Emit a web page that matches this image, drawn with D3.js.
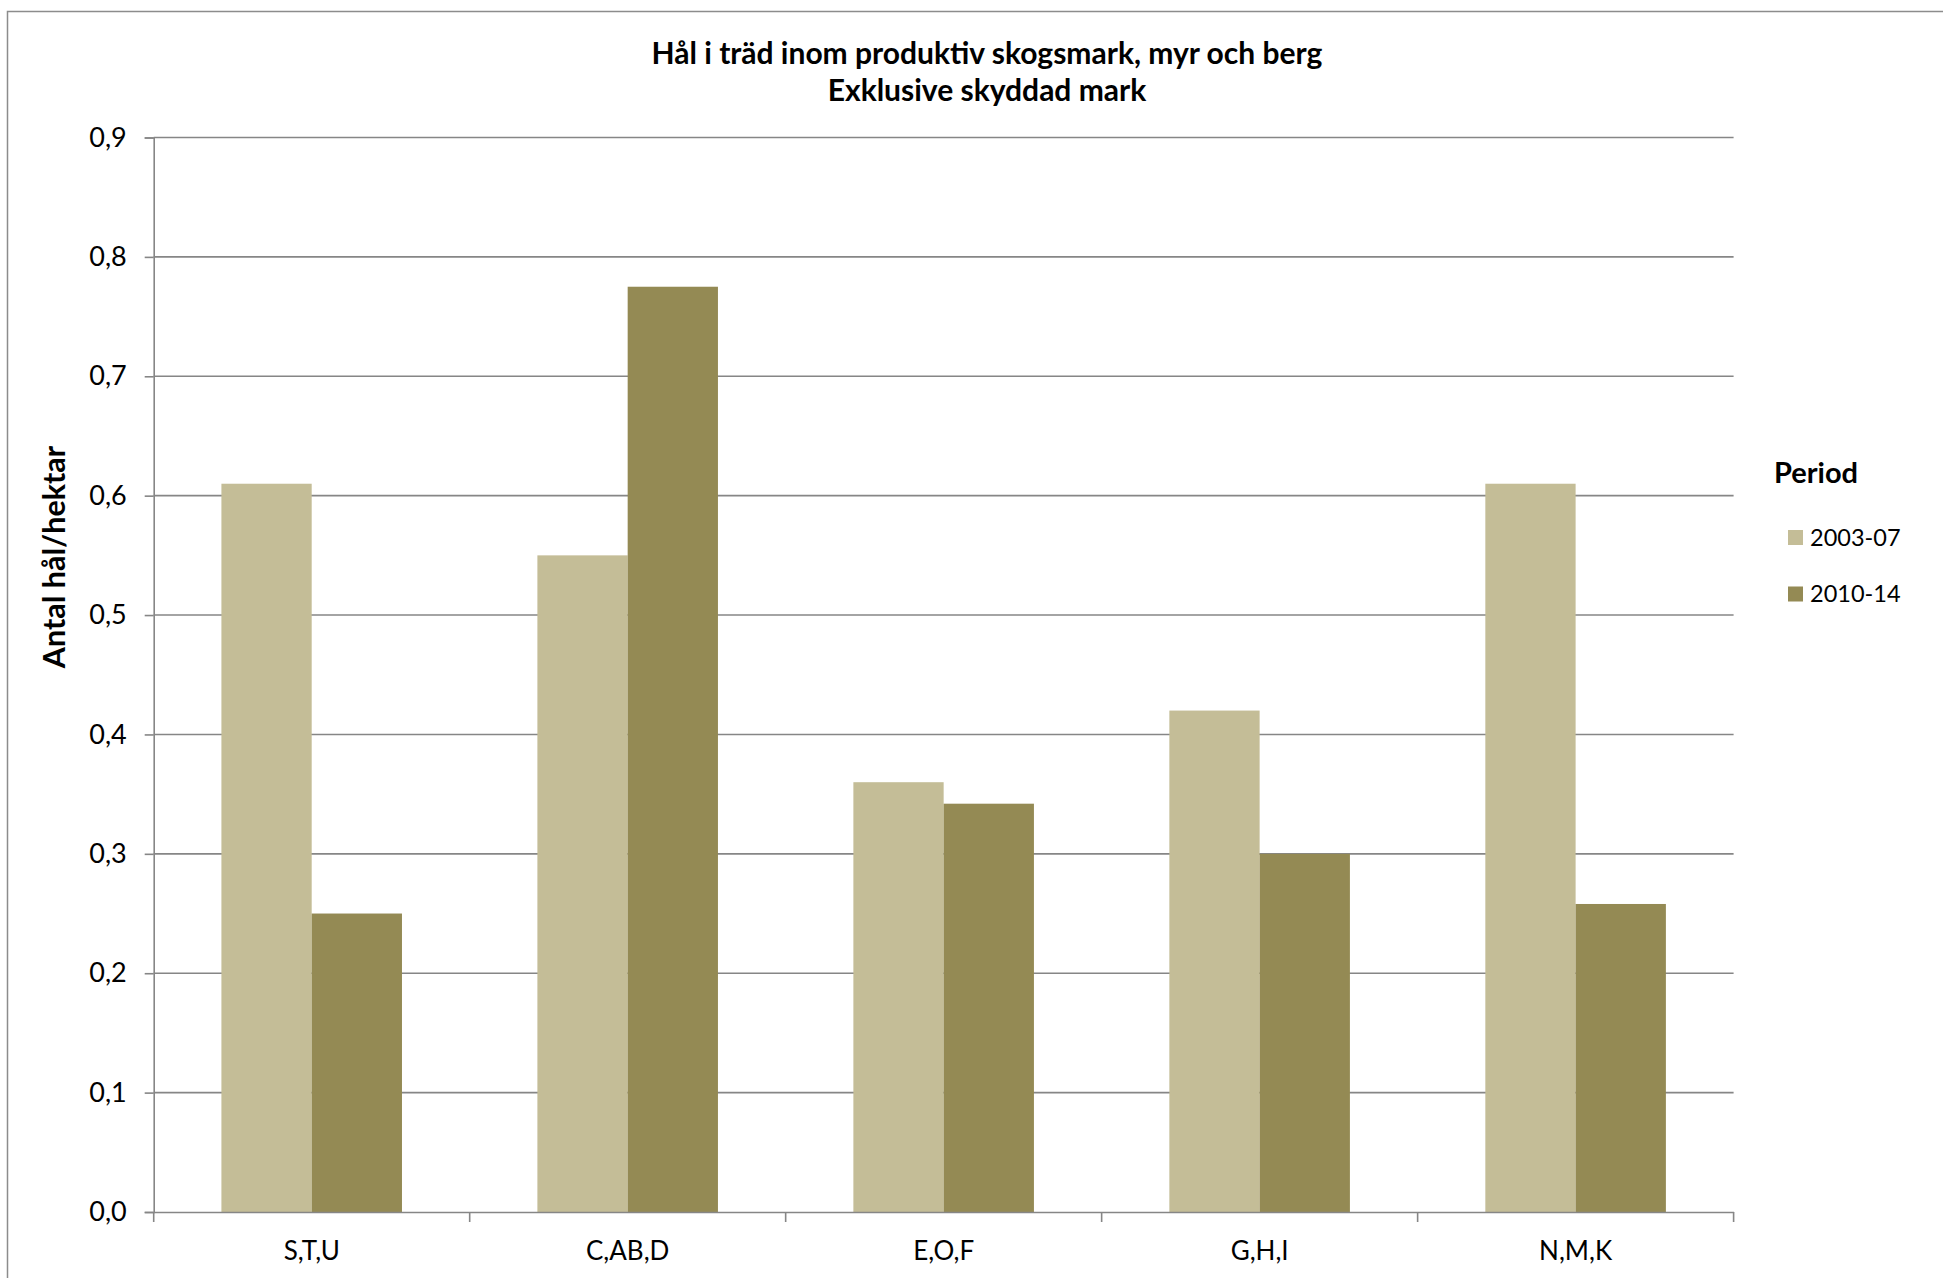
<!DOCTYPE html>
<html>
<head>
<meta charset="utf-8">
<script src="https://cdn.jsdelivr.net/npm/d3@7"></script>
<style>
  html, body { margin: 0; padding: 0; background: #ffffff; }
  svg { display: block; font-family: Lato, "Open Sans", sans-serif; }
</style>
</head>
<body>
<svg id="chart" width="1943" height="1278"></svg>
<script>
const categories = ["S,T,U", "C,AB,D", "E,O,F", "G,H,I", "N,M,K"];
const seriesNames = ["2003-07", "2010-14"];
const values2003 = [0.61, 0.55, 0.36, 0.42, 0.61];
const values2010 = [0.25, 0.775, 0.342, 0.30, 0.258];
const yTicks = [0, 0.1, 0.2, 0.3, 0.4, 0.5, 0.6, 0.7, 0.8, 0.9];
const titleLines = ["Hål i träd inom produktiv skogsmark, myr och berg", "Exklusive skyddad mark"];
const yTitle = "Antal hål/hektar";
const legendTitle = "Period";
const colors = ["#C4BD97", "#948A54"];

const svg = d3.select("#chart");
const W = 1943, H = 1278;
const plot = { left: 153.7, right: 1733.6, top: 137.5, bottom: 1212 };
const gridColor = "#868686";

// outer frame
svg.append("rect")
  .attr("x", 7.5).attr("y", 11.5)
  .attr("width", W + 20).attr("height", H + 20)
  .attr("fill", "#fff").attr("stroke", "#8c8c8c").attr("stroke-width", 1.5);

const x0 = d3.scaleBand().domain(categories).range([plot.left, plot.right]).paddingInner(0).paddingOuter(0);
const x1 = d3.scaleBand().domain(seriesNames).range([0, x0.bandwidth()]).paddingInner(0).paddingOuter(0.75);
const y = d3.scaleLinear().domain([0, 0.9]).range([plot.bottom, plot.top]);
const color = d3.scaleOrdinal().domain(seriesNames).range(colors);

const fmt = v => d3.format(".1f")(v).replace(".", ",");

// gridlines
svg.append("g")
  .selectAll("line").data(yTicks.filter(t => t > 0)).join("line")
  .attr("x1", plot.left).attr("x2", plot.right)
  .attr("y1", d => y(d)).attr("y2", d => y(d))
  .attr("stroke", gridColor).attr("stroke-width", 1.6);

// bars
const rows = categories.map((c, i) => ({ cat: c, vals: [values2003[i], values2010[i]] }));
const groups = svg.append("g").selectAll("g").data(rows).join("g")
  .attr("transform", d => `translate(${x0(d.cat)},0)`);
groups.selectAll("rect")
  .data(d => d.vals.map((v, j) => ({ key: seriesNames[j], v })))
  .join("rect")
  .attr("x", d => x1(d.key))
  .attr("width", x1.bandwidth())
  .attr("y", d => y(d.v))
  .attr("height", d => y(0) - y(d.v))
  .attr("fill", d => color(d.key));

// y axis
const yAxis = d3.axisLeft(y).tickValues(yTicks).tickFormat(fmt).tickSize(9).tickPadding(18);
const gy = svg.append("g").attr("transform", `translate(${plot.left},0)`).call(yAxis);
gy.select(".domain").attr("stroke", gridColor).attr("stroke-width", 1.6);
gy.selectAll(".tick line").attr("stroke", gridColor).attr("stroke-width", 1.6);
gy.selectAll(".tick text").attr("font-size", 27).attr("fill", "#000").attr("font-family", "Lato, sans-serif");

// x axis
const xAxis = d3.axisBottom(x0).tickSize(0).tickPadding(30);
const gx = svg.append("g").attr("transform", `translate(0,${plot.bottom})`).call(xAxis);
gx.select(".domain").attr("stroke", gridColor).attr("stroke-width", 1.6);
gx.selectAll(".tick text").attr("font-size", 26).attr("fill", "#000").attr("font-family", "Lato, sans-serif");
// category boundary ticks
const bounds = categories.map(c => x0(c)).concat([plot.right]);
svg.append("g").selectAll("line").data(bounds).join("line")
  .attr("x1", d => d).attr("x2", d => d)
  .attr("y1", plot.bottom).attr("y2", plot.bottom + 10)
  .attr("stroke", gridColor).attr("stroke-width", 1.6);

// title
svg.append("g").selectAll("text").data(titleLines).join("text")
  .attr("x", 987).attr("y", (d, i) => 64 + i * 37)
  .attr("text-anchor", "middle")
  .attr("font-size", 30).attr("font-weight", "bold").attr("fill", "#000")
  .text(d => d);

// y title
svg.append("text")
  .attr("transform", "translate(65,557) rotate(-90)")
  .attr("text-anchor", "middle")
  .attr("font-size", 30.5).attr("font-weight", "bold").attr("fill", "#000")
  .text(yTitle);

// legend
svg.append("text")
  .attr("x", 1774).attr("y", 483)
  .attr("font-size", 29).attr("font-weight", "bold").attr("fill", "#000")
  .text(legendTitle);
const lg = svg.append("g").selectAll("g").data(seriesNames).join("g")
  .attr("transform", (d, i) => `translate(1788,${530 + i * 56.5})`);
lg.append("rect").attr("width", 15).attr("height", 15).attr("fill", d => color(d));
lg.append("text").attr("x", 22).attr("y", 15.5)
  .attr("font-size", 23.5).attr("fill", "#000").text(d => d);
</script>
</body>
</html>
